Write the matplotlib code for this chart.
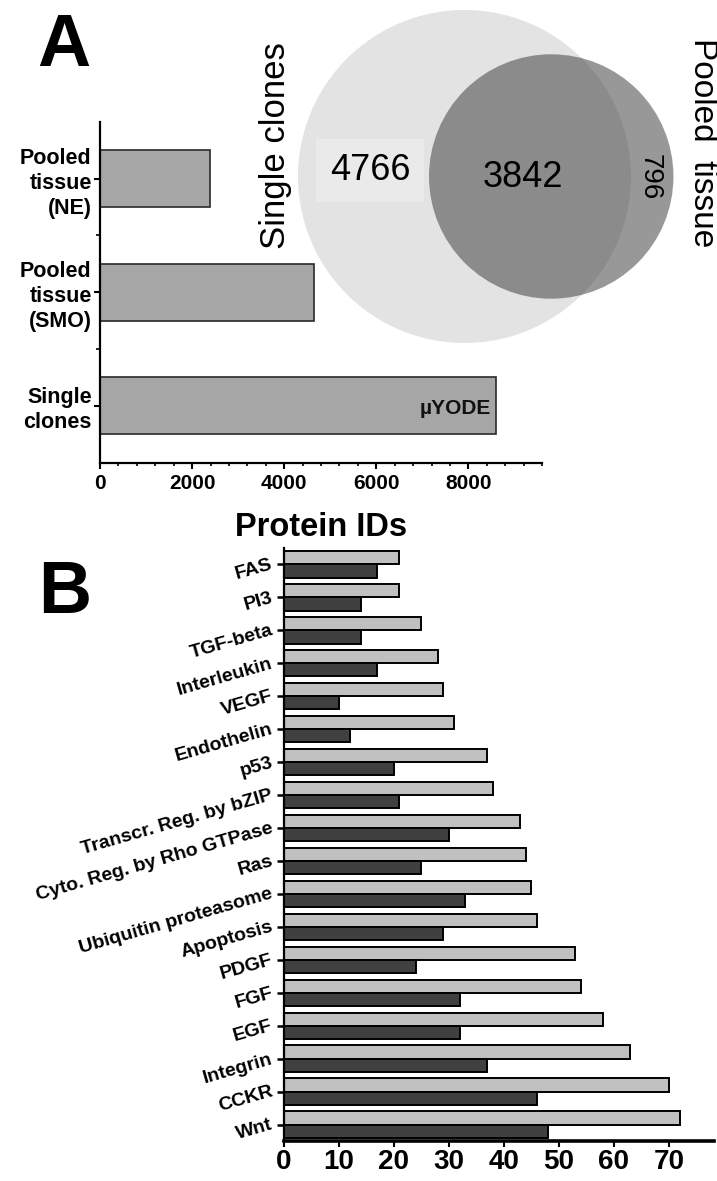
import numpy as np
import matplotlib
matplotlib.use("Agg")
import matplotlib.pyplot as plt
from matplotlib.patches import Circle
from matplotlib.ticker import MultipleLocator

plt.rcParams['font.family'] = ['Liberation Sans', 'DejaVu Sans']

# --- panel A data: protein IDs per sample type ---
only_single = 4766
shared = 3842
only_pooled = 796
sample_labels = ['Single\nclones', 'Pooled\ntissue\n(SMO)', 'Pooled\ntissue\n(NE)']
id_counts = [only_single + shared, shared + only_pooled, 2380]

# --- panel B data: pathway hits, top to bottom ---
pathways = ['FAS', 'PI3', 'TGF-beta', 'Interleukin', 'VEGF', 'Endothelin', 'p53',
            'Transcr. Reg. by bZIP', 'Cyto. Reg. by Rho GTPase', 'Ras',
            'Ubiquitin proteasome', 'Apoptosis', 'PDGF', 'FGF', 'EGF',
            'Integrin', 'CCKR', 'Wnt']
hits_light = [21, 21, 25, 28, 29, 31, 37, 38, 43, 44, 45, 46, 53, 54, 58, 63, 70, 72]
hits_dark = [17, 14, 14, 17, 10, 12, 20, 21, 30, 25, 33, 29, 24, 32, 32, 37, 46, 48]

W, H = 717, 1181
fig = plt.figure(figsize=(W / 100, H / 100), dpi=100)

# venn layer in pixel coordinates
axv = fig.add_axes([0, 0, 1, 1], zorder=0)
axv.set_xlim(0, W)
axv.set_ylim(H, 0)
axv.axis('off')

n_single = only_single + shared
n_pooled = shared + only_pooled
k = 166.5 / np.sqrt(n_single)
r1 = k * np.sqrt(n_single)
r2 = k * np.sqrt(n_pooled)


def lens_area(d, a, b):
    c1 = np.clip((d * d + a * a - b * b) / (2 * d * a), -1, 1)
    c2 = np.clip((d * d + b * b - a * a) / (2 * d * b), -1, 1)
    s = max((-d + a + b) * (d + a - b) * (d - a + b) * (d + a + b), 0)
    return a * a * np.arccos(c1) + b * b * np.arccos(c2) - 0.5 * np.sqrt(s)


# circle distance so the overlap area matches the shared count
target = shared / n_single * np.pi * r1 ** 2
lo, hi = r1 - r2 + 1e-6, r1 + r2
for _ in range(60):
    mid = 0.5 * (lo + hi)
    if lens_area(mid, r1, r2) > target:
        lo = mid
    else:
        hi = mid
d = 0.5 * (lo + hi)

cx1, cy = 464.5, 176.5
cx2 = cx1 + d
axv.add_patch(Circle((cx1, cy), r1, facecolor='#e3e3e3', edgecolor='none'))
axv.add_patch(Circle((cx2, cy), r2, facecolor='#3b3b3b', alpha=0.52, edgecolor='none'))

axv.text(370, 180, f'{only_single}', fontsize=26, ha='center', va='baseline',
         bbox=dict(boxstyle='square,pad=0.38', facecolor='#eaeaea', edgecolor='none'))
axv.text(523, 187, f'{shared}', fontsize=26, ha='center', va='baseline')
axv.text(0.5 * (cx1 + r1 + cx2 + r2) - 3, cy + 1, f'{only_pooled}', fontsize=20,
         rotation=-90, ha='center', va='center')
axv.text(276, 146, 'Single clones', fontsize=25, rotation=90, ha='center', va='center')
axv.text(703, 143, 'Pooled  tissue', fontsize=24, rotation=-90, ha='center', va='center')

# --- panel A bars ---
axA = fig.add_axes([100 / W, 1 - 462.7 / H, 442 / W, 341 / H], zorder=1)
axA.patch.set_alpha(0)
ya = np.arange(len(id_counts))
axA.barh(ya, id_counts, height=0.5, color='#a6a6a6', edgecolor='#2a2a2a', linewidth=1.2)
axA.annotate('µYODE', xy=(id_counts[0], 0), xytext=(-4, -2), textcoords='offset points',
             ha='right', va='center', fontsize=15, fontweight='bold', color='#111111')
axA.set_xlim(0, 9600)
axA.set_ylim(-0.5, 2.5)
axA.set_yticks(ya)
axA.set_yticklabels(sample_labels, fontsize=15.5, fontweight='bold', linespacing=1.25)
axA.set_yticks([0.5, 1.5], minor=True)
axA.set_xticks([0, 2000, 4000, 6000, 8000])
axA.xaxis.set_minor_locator(MultipleLocator(400))
for lab in axA.get_xticklabels():
    lab.set_fontweight('bold')
axA.tick_params(axis='x', labelsize=15, length=4, width=1.5, pad=4)
axA.tick_params(axis='x', which='minor', length=2.5, width=1.2)
axA.tick_params(axis='y', length=4, width=1.5, pad=2)
axA.tick_params(axis='y', which='minor', length=3, width=1.2)
for s in ['top', 'right']:
    axA.spines[s].set_visible(False)
for s in ['left', 'bottom']:
    axA.spines[s].set_linewidth(1.6)
axA.set_xlabel('Protein IDs', fontsize=23.5, fontweight='bold', labelpad=14)

# --- panel B grouped bars ---
axB = fig.add_axes([283.5 / W, 1 - 1141 / H, (714 - 283.5) / W, (1141 - 548) / H])
yb = np.arange(len(pathways))[::-1]
axB.barh(yb + 0.2, hits_light, height=0.4, color='#c0c0c0', edgecolor='black', linewidth=1.4)
axB.barh(yb - 0.2, hits_dark, height=0.4, color='#404040', edgecolor='black', linewidth=1.4)
axB.set_xlim(0, 78.2)
axB.set_ylim(-0.5, len(pathways) - 0.5)
axB.set_yticks(yb)
axB.set_yticklabels(pathways, fontsize=14, fontweight='bold', rotation=16,
                    ha='right', va='center', rotation_mode='anchor')
axB.set_xticks(np.arange(0, 80, 10))
for lab in axB.get_xticklabels():
    lab.set_fontweight('bold')
axB.tick_params(axis='x', labelsize=20, length=4.5, width=1.5, pad=1)
axB.tick_params(axis='y', length=5, width=1.8, pad=3)
for s in ['top', 'right']:
    axB.spines[s].set_visible(False)
axB.spines['left'].set_linewidth(1.6)
axB.spines['bottom'].set_linewidth(2.6)

fig.text(64 / W, 1 - 66 / H, 'A', fontsize=53, fontweight='bold', ha='center', va='baseline')
fig.text(65 / W, 1 - 613 / H, 'B', fontsize=53, fontweight='bold', ha='center', va='baseline')

fig.savefig('out.png', dpi=100)
